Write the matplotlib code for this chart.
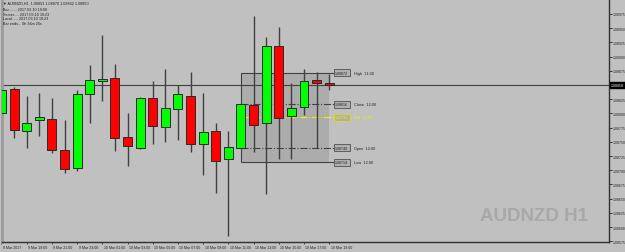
import matplotlib
matplotlib.use('Agg')
import matplotlib.pyplot as plt
import matplotlib.transforms as mtransforms

plt.rcParams['font.family'] = ['Liberation Sans', 'DejaVu Sans']

# AUDNZD H1 candles, 9 Mar 17:00 -> 10 Mar 19:00
opens = [1.08801, 1.08843, 1.08769, 1.08788, 1.08791, 1.08736, 1.08704, 1.08834, 1.08857,
         1.08862, 1.08758, 1.08740, 1.08827, 1.08776, 1.08808, 1.08831, 1.08747, 1.08769,
         1.08720, 1.08740, 1.08815, 1.08783, 1.08919, 1.08795, 1.08811, 1.08859, 1.08853]
highs = [1.08875, 1.08847, 1.08830, 1.08836, 1.08827, 1.08789, 1.08841, 1.08885, 1.08938,
         1.08887, 1.08801, 1.08829, 1.08857, 1.08878, 1.08850, 1.08873, 1.08836, 1.08784,
         1.08769, 1.08816, 1.08971, 1.08934, 1.08952, 1.08854, 1.08878, 1.08873, 1.08870]
lows = [1.08795, 1.08757, 1.08740, 1.08760, 1.08730, 1.08695, 1.08699, 1.08783, 1.08822,
        1.08734, 1.08708, 1.08737, 1.08747, 1.08750, 1.08754, 1.08732, 1.08692, 1.08660,
        1.08584, 1.08740, 1.08732, 1.08658, 1.08720, 1.08720, 1.08798, 1.08740, 1.08842]
closes = [1.08841, 1.08770, 1.08784, 1.08793, 1.08735, 1.08703, 1.08834, 1.08858, 1.08861,
          1.08756, 1.08742, 1.08828, 1.08777, 1.08809, 1.08834, 1.08746, 1.08767, 1.08717,
          1.08741, 1.08816, 1.08780, 1.08919, 1.08792, 1.08809, 1.08857, 1.08854, 1.08850]

time_labels = ['8 Mar 2017', '9 Mar 19:00', '9 Mar 21:00', '9 Mar 23:00', '10 Mar 01:00',
               '10 Mar 03:00', '10 Mar 05:00', '10 Mar 07:00', '10 Mar 09:00', '10 Mar 11:00',
               '10 Mar 13:00', '10 Mar 15:00', '10 Mar 17:00', '10 Mar 19:00']
price_ticks = [1.08575, 1.08600, 1.08625, 1.08650, 1.08675, 1.08700, 1.08725, 1.08750,
               1.08775, 1.08800, 1.08825, 1.08875, 1.08900, 1.08925, 1.08950, 1.08975]
current_price = 1.08850

# range box levels (name, price, time)
level_names = ['High', 'Close', 'Mid', 'Open', 'Low']
level_prices = [1.08872, 1.08816, 1.08793, 1.08740, 1.08714]
level_times = ['11:00', '12:00', '12:00', '12:00', '12:00']
box_start = 19

info_lines = ['\u25bc AUDNZD,H1  1.08853 1.08870 1.08842 1.08850',
              'Bar........ 2017.03.10 19:00',
              'Server..... 2017.03.10 19:23',
              'Local...... 2017.03.10 19:23',
              'Bar ends... 0h 36m 26s']

BG = '#c0c0c0'
TXT = '#202020'
fig = plt.figure(figsize=(6.25, 2.53), dpi=100, facecolor=BG)
ax = fig.add_axes([2/625, 10/253, 607/625, 243/253], facecolor=BG)

n = len(opens)
x = list(range(n))

# range box
box_end = n - 1
lab_x = box_end + 0.38
ax.fill_between([box_start, box_end], level_prices[4], level_prices[0],
                color='black', alpha=0.1, lw=0, zorder=1)
ax.vlines(box_start, level_prices[4], level_prices[0], color='#404040', lw=0.8, zorder=1.5)
for name, p in zip(level_names, level_prices):
    if name in ('High', 'Low'):
        ax.hlines(p, box_start, lab_x, color='#404040', lw=0.8, zorder=1.5)
    elif name == 'Mid':
        ax.hlines(p, box_start, lab_x, color='#f0f000', lw=0.8, linestyles='-.', zorder=1.5)
    else:
        ax.hlines(p, box_start, lab_x, color='#404040', lw=0.8, linestyles='-.', zorder=1.5)

# current price line
ax.axhline(current_price, color='#404040', lw=0.8, zorder=1.6)

# candles
ax.vlines(x, lows, highs, color='#404040', lw=1, zorder=2)
up = [c >= o for o, c in zip(opens, closes)]
bottoms = [min(o, c) for o, c in zip(opens, closes)]
heights = [max(abs(c - o), 0.00002) for o, c in zip(opens, closes)]
colors = ['#00ff00' if u else '#ff0000' for u in up]
ax.bar(x, heights, bottom=bottoms, width=0.71, color=colors, edgecolor='#2a2a2a',
       linewidth=0.7, zorder=3)

# level labels
for name, p, t in zip(level_names, level_prices, level_times):
    col = '#f0f000' if name == 'Mid' else TXT
    ec = '#e0e000' if name == 'Mid' else '#505050'
    ax.text(lab_x + 0.1, p, f'{p:.5f}', fontsize=2.6, color=col, ha='left', va='center',
            bbox=dict(boxstyle='square,pad=0.35', fc='#b0b0b0', ec=ec, lw=0.6), zorder=4)
    ax.text(lab_x + 1.6, p, f'{name}  {t}', fontsize=2.8, color=col, ha='left',
            va='center', zorder=4)

ax.set_xlim(0.04, 48.2)
ax.set_ylim(1.085737, 1.090014)

# axes styling
ax.spines['top'].set_visible(False)
ax.spines['left'].set_color('#9a9a9a')
ax.spines['left'].set_linewidth(2)
for s in ['bottom', 'right']:
    ax.spines[s].set_color('#303030')
    ax.spines[s].set_linewidth(1)

ax.yaxis.tick_right()
ax.set_yticks(price_ticks)
ax.set_yticklabels([f'{p:.5f}' for p in price_ticks])
ax.tick_params(axis='y', labelsize=2.5, length=2, pad=1.0, colors=TXT, width=0.6)

# time axis: ticks every 2 bars, labels start just right of the tick
ax.set_xticks([])
xtrans = mtransforms.blended_transform_factory(ax.transData, ax.transAxes)
tick_pos = list(range(0, n, 2))
ax.vlines(tick_pos, -0.009, 0, transform=xtrans, color='#303030', lw=0.6, clip_on=False)
for pos, lbl in zip(tick_pos, time_labels):
    ax.text(pos + 0.12, -0.022, lbl, transform=xtrans, fontsize=2.6, color=TXT,
            ha='left', va='center', clip_on=False)

# current price tag on the axis
trans = mtransforms.blended_transform_factory(ax.transAxes, ax.transData)
ax.text(1.003, current_price, f'{current_price:.5f}', transform=trans, fontsize=2.5,
        color='white', ha='left', va='center', clip_on=False,
        bbox=dict(boxstyle='square,pad=0.3', fc='black', ec='black'))

# watermark
ax.text(0.9654, 0.111, 'AUDNZD H1', transform=ax.transAxes, ha='right', va='center',
        fontsize=13.5, fontweight='bold', color='#a8a8a8', zorder=0.5)

# info text top-left
info_y = [4, 10, 14.7, 19.3, 24]
for line, yy in zip(info_lines, info_y):
    fig.text(3/625, 1 - yy/253, line, fontsize=2.7, color=TXT, ha='left', va='center')

fig.savefig('out.png', dpi=100, facecolor=BG)
